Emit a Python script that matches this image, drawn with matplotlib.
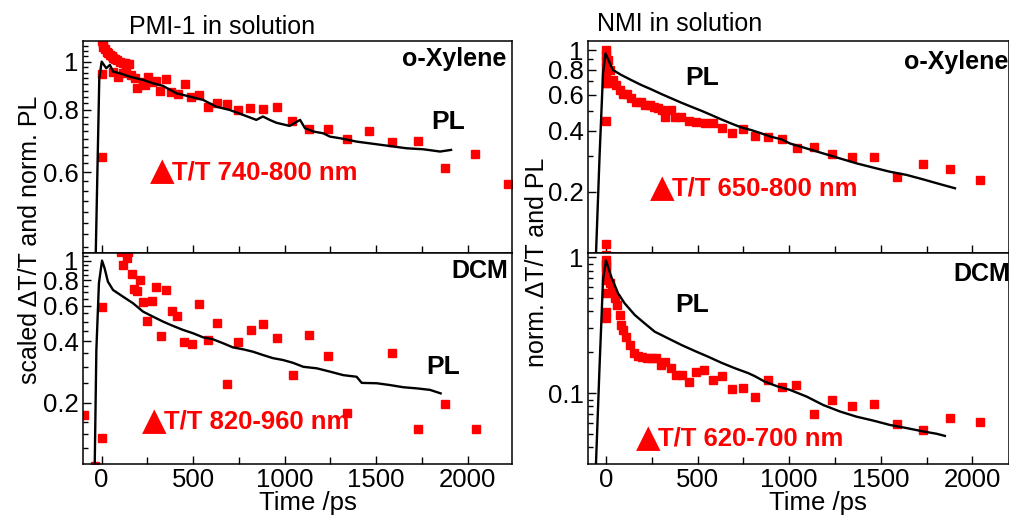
import numpy as np
import matplotlib
matplotlib.use("Agg")
import matplotlib.pyplot as plt
from matplotlib.ticker import NullFormatter

plt.rcParams['font.family'] = ['Liberation Sans', 'DejaVu Sans']

# PMI-1 in o-Xylene
pl_t_pmi_xyl = [-33, -13, 0, 25, 45, 62, 98, 153, 226, 280, 335, 408, 481, 554, 626, 699, 772, 845,
                881, 918, 954, 1027, 1084, 1111, 1157, 1211, 1248, 1302, 1393, 1484, 1575, 1667, 1757,
                1849, 1909]
pl_v_pmi_xyl = [0.40, 0.926, 1.0, 0.970, 0.985, 0.955, 0.948, 0.933, 0.919, 0.905, 0.894, 0.864, 0.851,
                0.838, 0.812, 0.800, 0.782, 0.764, 0.776, 0.764, 0.754, 0.743, 0.764, 0.735, 0.724, 0.718,
                0.707, 0.702, 0.691, 0.684, 0.677, 0.670, 0.667, 0.660, 0.665]
ta_t_pmi_xyl = [0, 0, 0, 5, 9, 18, 27, 36, 45, 55, 64, 73, 82, 100, 115, 127, 140, 151,
                62, 89, 116, 131, 162, 180, 193, 226, 235, 253, 277, 295, 320, 350, 381, 417, 453, 490,
                532, 581, 630, 685, 745, 812, 881, 960, 1042, 1134, 1235, 1342, 1461, 1588, 1727, 1878,
                2042, 2222]
ta_v_pmi_xyl = [0.643, 0.945, 1.10, 1.09, 1.072, 1.06, 1.045, 1.04, 1.031, 1.025, 1.016, 1.012, 1.008,
                1.0, 0.995, 0.993, 0.99, 0.988,
                0.952, 0.933, 0.948, 0.959, 0.940, 0.926, 0.884, 0.912, 0.898, 0.930, 0.912, 0.916,
                0.874, 0.924, 0.870, 0.861, 0.902, 0.848, 0.857, 0.812, 0.827, 0.822, 0.800, 0.806,
                0.804, 0.810, 0.761, 0.732, 0.733, 0.700, 0.726, 0.691, 0.693, 0.611, 0.652, 0.567]

# PMI-1 in DCM
pl_t_pmi_dcm = [-38, -29, -15, 2, 16, 34, 62, 116, 171, 226, 280, 335, 390, 444, 499, 554, 608, 663,
                717, 772, 827, 881, 936, 991, 1045, 1102, 1175, 1248, 1320, 1393, 1421, 1503, 1575,
                1648, 1721, 1794, 1852]
pl_v_pmi_dcm = [0.098, 0.363, 0.774, 1.0, 0.917, 0.788, 0.717, 0.665, 0.617, 0.561, 0.530, 0.501, 0.477,
                0.456, 0.439, 0.419, 0.410, 0.392, 0.374, 0.366, 0.356, 0.343, 0.331, 0.324, 0.314,
                0.300, 0.295, 0.284, 0.273, 0.268, 0.250, 0.249, 0.244, 0.238, 0.235, 0.231, 0.222]
ta_t_pmi_dcm = [-97, -38, 0, 0, 107, 144, 118, 137, 164, 209, 176, 195, 227, 273, 246, 295, 350, 322,
                383, 413, 450, 492, 533, 583, 632, 686, 746, 814, 883, 960, 1044, 1134, 1235, 1342,
                1588, 1727, 1878, 2044]
ta_v_pmi_dcm = [0.174, 0.098, 0.593, 0.134, 1.1, 1.1, 0.952, 1.03, 0.860, 0.803, 0.723, 0.709, 0.624,
                0.633, 0.506, 0.740, 0.717, 0.427, 0.567, 0.532, 0.396, 0.387, 0.610, 0.407, 0.492,
                0.247, 0.399, 0.456, 0.488, 0.415, 0.273, 0.429, 0.340, 0.177, 0.349, 0.148, 0.196,
                0.149]

# NMI in o-Xylene
pl_t_nmi_xyl = [-55, -35, -16, -3, 38, 84, 138, 193, 247, 302, 356, 411, 466, 520, 575, 629, 684, 739,
                793, 848, 902, 957, 1004, 1095, 1186, 1277, 1368, 1459, 1550, 1641, 1732, 1823, 1905]
pl_v_nmi_xyl = [0.095, 0.298, 0.767, 0.963, 0.797, 0.753, 0.711, 0.672, 0.640, 0.607, 0.578, 0.550,
                0.525, 0.502, 0.478, 0.455, 0.434, 0.415, 0.403, 0.388, 0.373, 0.363, 0.346, 0.327,
                0.309, 0.292, 0.276, 0.263, 0.251, 0.242, 0.230, 0.218, 0.208]
ta_t_nmi_xyl = [0, 0, 0, 0, 0, 0, 0, 0, 0, 11, 20, 7, 38, 56, 75, 93, 116, 135, 166, 189, 215, 238,
                262, 284, 306, 324, 353, 378, 411, 451, 493, 539, 584, 633, 688, 748, 815, 884, 962,
                1042, 1135, 1235, 1345, 1463, 1587, 1729, 1878, 2041]
ta_v_nmi_xyl = [0.097, 0.111, 0.448, 0.685, 0.75, 0.82, 0.88, 0.94, 1.0, 0.893, 0.797, 0.685, 0.711,
                0.672, 0.635, 0.607, 0.607, 0.578, 0.556, 0.556, 0.535, 0.535, 0.525, 0.516, 0.506,
                0.469, 0.506, 0.469, 0.466, 0.446, 0.443, 0.438, 0.438, 0.414, 0.388, 0.406, 0.377,
                0.371, 0.363, 0.327, 0.331, 0.307, 0.298, 0.298, 0.237, 0.274, 0.259, 0.228]

# NMI in DCM
pl_t_nmi_dcm = [-55, -35, -16, 0, 29, 66, 102, 157, 211, 266, 338, 411, 484, 557, 629, 703, 775, 811,
                866, 939, 1004, 1096, 1186, 1277, 1368, 1459, 1550, 1641, 1732, 1805, 1850]
pl_v_nmi_dcm = [0.029, 0.157, 0.681, 0.95, 0.720, 0.544, 0.459, 0.377, 0.327, 0.284, 0.254, 0.227,
                0.205, 0.186, 0.168, 0.153, 0.141, 0.134, 0.122, 0.112, 0.106, 0.0945, 0.082, 0.0735,
                0.0673, 0.0630, 0.0585, 0.0555, 0.0524, 0.0504, 0.0486]
ta_t_nmi_dcm = [0, 0, 0, 0, 0, 0, 0, 0, 20, 33, 47, 62, 75, 80, 93, 111, 129, 153, 175, 197, 226, 251,
                275, 298, 324, 353, 384, 417, 453, 493, 535, 584, 633, 688, 748, 815, 884, 962, 1039,
                1135, 1235, 1345, 1463, 1587, 1729, 1878, 2041]
ta_v_nmi_dcm = [0.955, 0.90, 0.853, 0.763, 0.681, 0.544, 0.398, 0.356, 0.644, 0.558, 0.499, 0.446,
                0.377, 0.318, 0.292, 0.261, 0.227, 0.199, 0.188, 0.184, 0.181, 0.181, 0.181, 0.162,
                0.169, 0.153, 0.137, 0.137, 0.122, 0.144, 0.149, 0.126, 0.134, 0.107, 0.109, 0.0945,
                0.126, 0.111, 0.115, 0.070, 0.0894, 0.080, 0.083, 0.0595, 0.0538, 0.0662, 0.0620]

x_ticks = [0, 500, 1000, 1500, 2000]
RED = '#ff0000'


# satu panel: kurva PL hitam + kotak merah dT/T
def panel(ax, pl_t, pl_v, ta_t, ta_v, xlim, ylim, yticks, yminor, show_x):
    ax.plot(pl_t, pl_v, color='black', lw=1.7, zorder=3)
    ax.plot(ta_t, ta_v, ls='none', marker='s', ms=5.4, color=RED, mec=RED, zorder=2)
    ax.set_yscale('log')
    ax.set_yticks(yticks, [('%g' % v) for v in yticks])
    ax.set_yticks(yminor, minor=True)
    ax.yaxis.set_minor_formatter(NullFormatter())
    ax.set_xticks(x_ticks)
    ax.set_xticks(np.arange(250, 2250, 500), minor=True)
    # batas sumbu diset setelah tick supaya tidak melebar
    ax.set_xlim(*xlim)
    ax.set_ylim(*ylim)
    if not show_x:
        ax.set_xticklabels([])
    ax.tick_params(which='both', direction='in', labelsize=18.5, width=1)
    ax.tick_params(which='major', length=6, pad=3)
    ax.tick_params(which='minor', length=3.5)
    ax.tick_params(axis='x', which='minor', length=5)
    for s in ax.spines.values():
        s.set_linewidth(1.1)


def label_dt(ax, x, y, txt):
    ax.text(x, y, '\u25b2', transform=ax.transAxes, color=RED, fontsize=23,
            ha='left', va='center', family=['DejaVu Sans'])
    ax.annotate(txt, xy=(x, y), xycoords='axes fraction', xytext=(16, 0),
                textcoords='offset points', color=RED, fontsize=18.5, fontweight='bold',
                ha='left', va='center')


fig = plt.figure(figsize=(10.09, 5.18), dpi=100)

W, H = 1009.0, 518.0
ax_lt = fig.add_axes([83 / W, 1 - 253 / H, 429 / W, 212 / H])
ax_lb = fig.add_axes([83 / W, 1 - 464 / H, 429 / W, 211 / H])
ax_rt = fig.add_axes([588 / W, 1 - 253 / H, 421 / W, 212 / H])
ax_rb = fig.add_axes([588 / W, 1 - 464 / H, 421 / W, 211 / H])

xl_left = (-102, 2242)
xl_right = (-98, 2200)

log_minor = [0.03, 0.04, 0.05, 0.06, 0.07, 0.08, 0.09, 0.2, 0.3, 0.4, 0.5, 0.6, 0.7, 0.8, 0.9]

panel(ax_lt, pl_t_pmi_xyl, pl_v_pmi_xyl, ta_t_pmi_xyl, ta_v_pmi_xyl, xl_left, (0.413, 1.10),
      [0.6, 0.8, 1], np.arange(0.425, 1.1, 0.025), False)
panel(ax_lb, pl_t_pmi_dcm, pl_v_pmi_dcm, ta_t_pmi_dcm, ta_v_pmi_dcm, xl_left, (0.0997, 1.09),
      [0.2, 0.4, 0.6, 0.8, 1], list(np.arange(0.12, 0.2, 0.02)) + list(np.arange(0.25, 1.1, 0.05)), True)
panel(ax_rt, pl_t_nmi_xyl, pl_v_nmi_xyl, ta_t_nmi_xyl, ta_v_nmi_xyl, xl_right, (0.0997, 1.108),
      [0.2, 0.4, 0.6, 0.8, 1], log_minor, False)
panel(ax_rb, pl_t_nmi_dcm, pl_v_nmi_dcm, ta_t_nmi_dcm, ta_v_nmi_dcm, xl_right, (0.0302, 1.076),
      [0.1, 1], log_minor, True)

# teks di dalam panel
bold = dict(fontsize=18, fontweight='bold', color='black', va='center')
ax_lt.text(0.988, 0.914, 'o-Xylene', transform=ax_lt.transAxes, ha='right', **bold)
ax_lb.text(0.991, 0.916, 'DCM', transform=ax_lb.transAxes, ha='right', **bold)
ax_rt.text(0.751, 0.902, 'o-Xylene', transform=ax_rt.transAxes, ha='left', **bold)
ax_rb.text(0.869, 0.900, 'DCM', transform=ax_rb.transAxes, ha='left', **bold)

pl_style = dict(bold, fontsize=19)
ax_lt.text(0.851, 0.619, 'PL', transform=ax_lt.transAxes, ha='center', **pl_style)
ax_lb.text(0.839, 0.461, 'PL', transform=ax_lb.transAxes, ha='center', **pl_style)
ax_rt.text(0.272, 0.824, 'PL', transform=ax_rt.transAxes, ha='center', **pl_style)
ax_rb.text(0.248, 0.754, 'PL', transform=ax_rb.transAxes, ha='center', **pl_style)

label_dt(ax_lt, 0.156, 0.382, 'T/T 740-800 nm')
label_dt(ax_lb, 0.1375, 0.20, 'T/T 820-960 nm')
label_dt(ax_rt, 0.147, 0.305, 'T/T 650-800 nm')
label_dt(ax_rb, 0.114, 0.122, 'T/T 620-700 nm')

# judul dan label sumbu
fig.text(222 / W, 1 - 27 / H, 'PMI-1 in solution', fontsize=18, ha='center', va='center')
fig.text(680 / W, 1 - 24 / H, 'NMI in solution', fontsize=18, ha='center', va='center')
fig.text(30 / W, 1 - 240 / H, 'scaled \u0394T/T and norm. PL', fontsize=18, rotation=90,
         ha='center', va='center')
fig.text(537 / W, 1 - 262 / H, 'norm. \u0394T/T and PL', fontsize=18, rotation=90,
         ha='center', va='center')
fig.text(308 / W, 1 - 503 / H, 'Time /ps', fontsize=18.5, ha='center', va='center')
fig.text(818 / W, 1 - 503 / H, 'Time /ps', fontsize=18.5, ha='center', va='center')

fig.savefig('out.png', dpi=100)
